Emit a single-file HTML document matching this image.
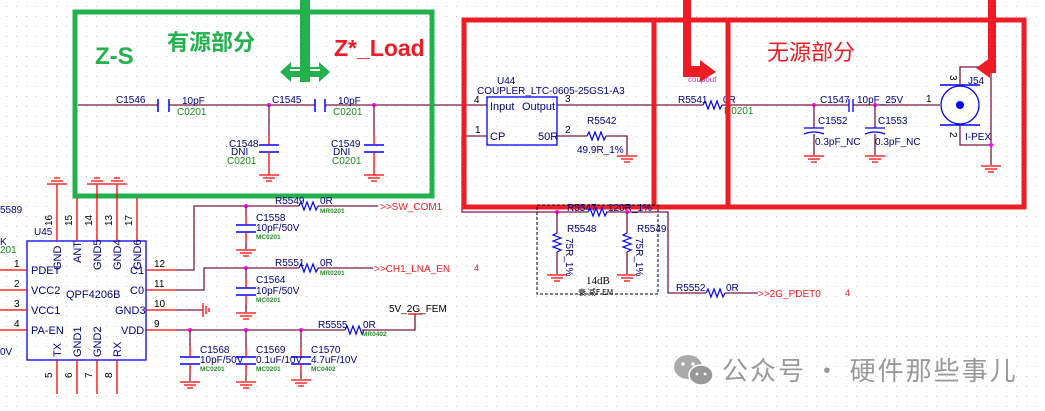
<!DOCTYPE html>
<html><head><meta charset="utf-8"><style>
html,body{margin:0;padding:0;background:#fff;width:1045px;height:411px;overflow:hidden}
svg{display:block}
text{font-family:"Liberation Sans","Noto Sans CJK SC",sans-serif}
.lb{fill:#000080;font-size:10px}
.gr{fill:#1a8a1a;font-size:10px}
.sg{fill:#2a8a2a;font-size:6.5px;font-weight:bold}
.pn{fill:#000;font-size:10px}
.w{stroke:#7a1840;stroke-width:1.3;fill:none}
.p{stroke:#ff0000;stroke-width:1.3;fill:none}
.bl{fill:#000080;font-size:11px}
</style></head><body>
<svg width="1045" height="411" viewBox="0 0 1045 411" xmlns="http://www.w3.org/2000/svg">
<defs>
<pattern id="dots" width="10" height="10" patternUnits="userSpaceOnUse"><rect x="6" y="6" width="1" height="1" fill="#c4c4c4"/></pattern>
<g id="gnd"><path d="M-10 0H10M-6 3H6M-3 6H3" stroke="#ff0000" stroke-width="1.3"/></g>
<g id="rh"><path d="M0 0l2-4 3 8 3-8 3 8 3-8 3 8 2-4" stroke="#0000ff" stroke-width="1.2" fill="none"/></g>
<g id="rv"><path d="M0 0l-4 2 8 3-8 3 8 3-8 3 8 3-4 2" stroke="#0000ff" stroke-width="1.2" fill="none"/></g>
<g id="capv"><path d="M-10 0H10M-10 7H10" stroke="#0000ff" stroke-width="1.5"/><path d="M0 -10V0M0 7V17" stroke="#ff0000" stroke-width="1.3"/></g>
</defs>
<rect width="1045" height="411" fill="url(#dots)"/>

<!-- main wire -->
<path class="w" d="M78 105H158M169 105H315M325 105H487"/>
<path d="M158 99V112M169 99V112M315 99V112M325 99V112" stroke="#0000ff" stroke-width="1.5"/>
<text class="lb" x="116" y="103">C1546</text><text class="lb" x="182" y="104">10pF</text><text class="gr" x="177" y="115">C0201</text>
<text class="lb" x="272" y="103">C1545</text><text class="lb" x="338" y="104">10pF</text><text class="gr" x="333" y="115">C0201</text>
<circle cx="269" cy="105" r="2" fill="#ff00ff"/><circle cx="374" cy="105" r="2" fill="#ff00ff"/>
<path class="w" d="M269 105V135M374 105V135"/>
<use href="#capv" x="269" y="145"/><use href="#capv" x="374" y="145"/>
<path class="p" d="M269 162V175M374 162V175"/>
<use href="#gnd" x="269" y="175"/><use href="#gnd" x="374" y="175"/>
<text class="lb" x="229" y="147">C1548</text><text class="lb" x="231" y="155">DNI</text><text class="gr" x="227" y="164">C0201</text>
<text class="lb" x="331" y="147">C1549</text><text class="lb" x="333" y="155">DNI</text><text class="gr" x="332" y="164">C0201</text>

<!-- green box -->
<rect x="75" y="12" width="357" height="184" fill="none" stroke="#22b14c" stroke-width="5"/>
<rect x="300" y="0" width="10" height="82" fill="#22b14c"/>
<path d="M280 72L291 62V67H319V62L330 72L319 82V77H291V82Z" fill="#22b14c"/>
<path d="M290 70H300M310 70H320" stroke="#fff" stroke-width="2"/>
<text x="95" y="64" fill="#22b14c" font-size="24" font-weight="bold">Z-S</text>
<text x="167" y="50" fill="#22b14c" font-size="22" font-weight="bold" style="font-family:'Noto Sans CJK SC',sans-serif">有源部分</text>
<text x="334" y="56" fill="#ee1c24" font-size="23" font-weight="bold">Z*_Load</text>

<!-- U44 -->
<text class="lb" x="497" y="84">U44</text><text class="lb" x="477" y="94">COUPLER_LTC-0605-25GS1-A3</text>
<rect x="487" y="97" width="70" height="48" fill="none" stroke="#0000ff" stroke-width="1.3"/>
<text class="bl" x="490" y="110" font-size="10">Input</text><text class="bl" x="522" y="110" font-size="10">Output</text>
<text class="bl" x="490" y="140" font-size="10">CP</text><text class="bl" x="538" y="140" font-size="10">50R</text>
<text class="pn" x="474" y="103">4</text><text class="pn" x="565" y="102">3</text><text class="pn" x="475" y="133">1</text><text class="pn" x="565" y="133">2</text>
<path class="w" d="M557 105H703M722 105H849M853 105H940"/>
<use href="#rh" x="703" y="105"/>
<text class="lb" x="678" y="103">R5541</text><text class="lb" x="723" y="103">0R</text><text class="gr" x="724" y="114" font-size="7">R0201</text>
<text x="688" y="82" fill="#9933ff" font-size="8">coupout</text>
<path class="w" d="M557 136H587M606 136H627V155"/><use href="#rh" x="587" y="136"/><use href="#gnd" x="627" y="156"/>
<text class="lb" x="587" y="124">R5542</text><text class="lb" x="577" y="153">49.9R_1%</text>
<path class="w" d="M487 136H462V212H588M606 212H668V293H706M725 293H758"/>
<!-- C1547 and shunts -->
<path d="M849 99V112M853 99V112" stroke="#0000ff" stroke-width="1.3"/>
<text class="lb" x="820" y="103">C1547</text><text class="lb" x="857" y="103">10pF_25V</text>
<circle cx="814" cy="105" r="2" fill="#ff00ff"/><circle cx="875" cy="105" r="2" fill="#ff00ff"/>
<path class="w" d="M814 105V128M875 105V128"/>
<path d="M804 128H824M804 134Q814 130 824 134M865 128H885M865 134Q875 130 885 134" stroke="#0000ff" stroke-width="1.3" fill="none"/>
<path class="w" d="M814 134V155M875 134V155"/><use href="#gnd" x="814" y="156"/><use href="#gnd" x="875" y="156"/>
<text class="lb" x="818" y="124">C1552</text><text class="lb" x="815" y="145">0.3pF_NC</text>
<text class="lb" x="878" y="124">C1553</text><text class="lb" x="875" y="145">0.3pF_NC</text>
<!-- J54 -->
<circle cx="960" cy="105" r="19" fill="none" stroke="#0000ff" stroke-width="1.3"/>
<circle cx="960" cy="105" r="4" fill="#0000ff"/>
<path d="M940 85H980M940 125H980" stroke="#0000ff" stroke-width="1.5"/>
<path class="w" d="M960 85V67H991V165M960 125V145H991"/><circle cx="991" cy="145" r="2" fill="#ff00ff"/>
<use href="#gnd" x="991" y="166"/>
<text class="pn" x="926" y="102">1</text><text class="lb" x="968" y="84">J54</text><text class="lb" x="965" y="140">I-PEX</text>
<text class="pn" transform="translate(950,75) rotate(90)">3</text><text class="pn" transform="translate(950,132) rotate(90)">2</text>

<!-- red boxes -->
<path d="M464 20H1024V207H464Z M654 20V207 M728 20V207" fill="none" stroke="#ee1c24" stroke-width="5"/>
<rect x="683" y="0" width="8" height="72" fill="#ee1c24"/>
<path d="M683 66H700V60L716 72L700 82V77H683Z" fill="#ee1c24"/>
<rect x="988" y="0" width="8" height="72" fill="#ee1c24"/>
<path d="M996 63H990V58L976 68L990 78V73H996Z" fill="#ee1c24"/>
<text x="767" y="60" fill="#ee1c24" font-size="22" style="font-family:'Noto Sans CJK SC',sans-serif">无源部分</text>

<!-- attenuator -->
<rect x="537" y="205" width="121" height="89" fill="none" stroke="#000" stroke-width="1" stroke-dasharray="3,2"/>
<use href="#rh" x="588" y="212"/>
<text class="lb" x="567" y="211">R5547</text><text class="lb" x="608" y="211">120R_1%</text>
<circle cx="557" cy="212" r="2" fill="#ff00ff"/><circle cx="627" cy="212" r="2" fill="#ff00ff"/>
<path class="w" d="M557 212V233M627 212V233"/><use href="#rv" x="557" y="233"/><use href="#rv" x="627" y="233"/>
<path class="w" d="M557 252V274M627 252V274"/><use href="#gnd" x="557" y="275"/><use href="#gnd" x="627" y="275"/>
<text class="lb" x="567" y="232">R5548</text><text class="lb" x="637" y="232">R5549</text>
<text class="lb" transform="translate(566,238) rotate(90)">75R_1%</text><text class="lb" transform="translate(636,238) rotate(90)">75R_1%</text>
<text x="586" y="284" font-size="11" fill="#000" style="font-family:'Liberation Serif',serif">14dB</text>
<text x="578" y="295" font-size="8" fill="#000" style="font-family:'Noto Sans CJK SC',sans-serif">衰 减F EM</text>
<use href="#rh" x="706" y="293"/>
<text class="lb" x="676" y="291">R5552</text><text class="lb" x="726" y="291">0R</text>
<text x="758" y="297" fill="#ee1c24" font-size="10">&gt;&gt;2G_PDET0</text>
<text x="845" y="296" fill="#ee1c24" font-size="9">4</text>
<text x="474" y="271" fill="#ee1c24" font-size="9">4</text>

<!-- U45 -->
<rect x="27" y="241" width="119" height="119" fill="none" stroke="#0000ff" stroke-width="1.3"/>
<path class="p" d="M57 241V185M77 241V198M97 241V185M117 241V185M137 241V198"/>
<use href="#gnd" x="57" y="184" transform="rotate(180,57,184)"/>
<use href="#gnd" x="97" y="184" transform="rotate(180,97,184)"/>
<use href="#gnd" x="117" y="184" transform="rotate(180,117,184)"/>
<path class="p" d="M0 270H27M0 290H27M0 310H27M0 330H27M146 270H176M146 290H176M146 310H176M146 330H176M57 360V394M77 360V394M97 360V394M117 360V394"/>
<text class="lb" x="34" y="235">U45</text><text class="lb" x="0" y="213">5589</text><text class="lb" x="0" y="245">K</text><text class="gr" x="0" y="253" font-size="6">201</text><text class="lb" x="0" y="355">0V</text>
<text class="bl" x="31" y="274">PDET</text><text class="bl" x="31" y="294">VCC2</text><text class="bl" x="31" y="314">VCC1</text><text class="bl" x="31" y="334">PA-EN</text>
<text class="bl" x="130" y="274">C1</text><text class="bl" x="130" y="294">C0</text><text class="bl" x="115" y="314">GND3</text><text class="bl" x="121" y="334">VDD</text>
<text class="bl" x="66" y="298">QPF4206B</text>
<g class="bl"><text transform="translate(61,270) rotate(-90)">GND</text><text transform="translate(81,263) rotate(-90)">ANT</text><text transform="translate(101,270) rotate(-90)">GND5</text><text transform="translate(121,270) rotate(-90)">GND4</text><text transform="translate(141,270) rotate(-90)">GND6</text>
<text transform="translate(61,357) rotate(-90)">TX</text><text transform="translate(81,357) rotate(-90)">GND1</text><text transform="translate(101,357) rotate(-90)">GND2</text><text transform="translate(121,357) rotate(-90)">RX</text></g>
<g class="pn"><text transform="translate(52,226) rotate(-90)">16</text><text transform="translate(72,226) rotate(-90)">15</text><text transform="translate(92,226) rotate(-90)">14</text><text transform="translate(112,226) rotate(-90)">13</text><text transform="translate(132,226) rotate(-90)">17</text>
<text transform="translate(52,378) rotate(-90)">5</text><text transform="translate(72,378) rotate(-90)">6</text><text transform="translate(92,378) rotate(-90)">7</text><text transform="translate(112,378) rotate(-90)">8</text>
<text x="14" y="267">1</text><text x="14" y="287">2</text><text x="14" y="307">3</text><text x="14" y="327">4</text>
<text x="154" y="267">12</text><text x="154" y="287">11</text><text x="154" y="307">10</text><text x="154" y="327">9</text></g>
<path class="w" d="M176 270H194V206H299M318 206H378M176 290H204V268H299M318 268H373M176 310H203"/>
<use href="#rh" x="299" y="206"/><use href="#rh" x="299" y="268"/>
<path d="M203 303V317M206 306V314M209 308V312" stroke="#ff0000" stroke-width="1.3"/>
<circle cx="246" cy="206" r="2" fill="#ff00ff"/><circle cx="246" cy="268" r="2" fill="#ff00ff"/>
<use href="#capv" x="246" y="225"/><path class="w" d="M246 206V215M246 242V249"/><use href="#gnd" x="246" y="250"/>
<use href="#capv" x="246" y="288"/><path class="w" d="M246 268V278M246 305V312"/><use href="#gnd" x="246" y="313"/>
<text class="lb" x="275" y="204">R5549</text><text class="lb" x="320" y="204">0R</text><text class="sg" x="320" y="213">MR0201</text>
<text x="380" y="210" fill="#ee1c24" font-size="10">&gt;&gt;SW_COM1</text>
<text class="lb" x="256" y="221">C1558</text><text class="lb" x="256" y="231">10pF/50V</text><text class="sg" x="256" y="239">MC0201</text>
<text class="lb" x="275" y="266">R5551</text><text class="lb" x="320" y="266">0R</text><text class="sg" x="320" y="275">MR0201</text>
<text x="374" y="272" fill="#ee1c24" font-size="10">&gt;&gt;CH1_LNA_EN</text>
<text class="lb" x="256" y="283">C1564</text><text class="lb" x="256" y="294">10pF/50V</text><text class="sg" x="256" y="302">MC0201</text>
<path class="w" d="M176 330H345M362 330H415V314"/><use href="#rh" x="345" y="330"/>
<path d="M408 314H422" stroke="#ff0000" stroke-width="1.3"/>
<text class="lb" x="318" y="328">R5555</text><text class="lb" x="363" y="328">0R</text><text class="sg" x="362" y="336">MR0402</text>
<text class="pn" x="389" y="312">5V_2G_FEM</text>
<circle cx="190" cy="330" r="2" fill="#ff00ff"/><circle cx="246" cy="330" r="2" fill="#ff00ff"/><circle cx="301" cy="330" r="2" fill="#ff00ff"/>
<path class="w" d="M190 330V347M246 330V347M301 330V347"/>
<use href="#capv" x="190" y="357"/><use href="#capv" x="246" y="357"/><use href="#capv" x="301" y="357"/>
<path class="w" d="M190 374V381M246 374V381M301 374V379"/>
<use href="#gnd" x="190" y="382"/><use href="#gnd" x="246" y="382"/><use href="#gnd" x="301" y="380"/>
<text class="lb" x="200" y="353">C1568</text><text class="lb" x="200" y="363">10pF/50V</text><text class="sg" x="200" y="371">MC0201</text>
<text class="lb" x="256" y="353">C1569</text><text class="lb" x="256" y="363">0.1uF/10V</text><text class="sg" x="256" y="371">MC0201</text>
<text class="lb" x="311" y="353">C1570</text><text class="lb" x="311" y="363">4.7uF/10V</text><text class="sg" x="311" y="371">MC0402</text>

<!-- watermark -->
<ellipse cx="688" cy="367" rx="14" ry="12" fill="#aaa"/>
<ellipse cx="701" cy="375" rx="12" ry="10" fill="#999" stroke="#fff" stroke-width="1.5"/>
<circle cx="683" cy="364" r="1.8" fill="#fff"/><circle cx="693" cy="364" r="1.8" fill="#fff"/>
<circle cx="697" cy="374" r="1.4" fill="#fff"/><circle cx="705" cy="374" r="1.4" fill="#fff"/>
<text x="722" y="380" fill="#999" font-size="26" letter-spacing="2" style="font-family:'Noto Sans CJK SC',sans-serif">公众号 · 硬件那些事儿</text>
</svg>
</body></html>
